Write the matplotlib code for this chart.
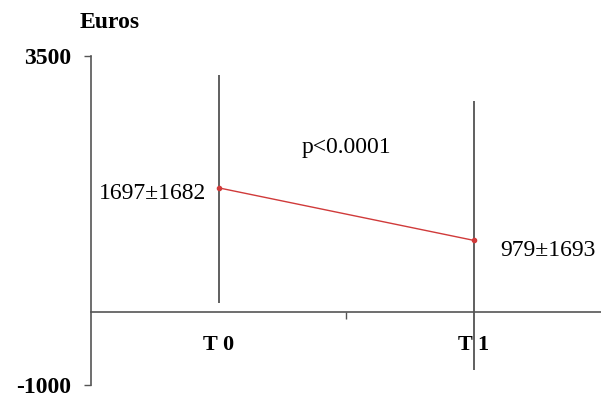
import matplotlib
matplotlib.use("Agg")
import matplotlib.pyplot as plt

# data
times = [1, 2]
time_labels = ["T 0", "T 1"]
means = [1697, 979]
sds = [1682, 1693]
bar_top = [3240, 2880]
bar_bottom = [120, -800]
y_ticks = [-1000, 3500]
p_text = "p<0.0001"

plt.rcParams['font.family'] = ['Liberation Serif', 'DejaVu Serif']

fig = plt.figure(figsize=(6.01, 3.99), dpi=100)
ax = fig.add_axes([91 / 601, 1 - 385 / 399, 510 / 601, 329 / 399])

ax.set_xlim(0.5, 2.5)
ax.set_ylim(-1000, 3500)

for s in ['top', 'right']:
    ax.spines[s].set_visible(False)
ax.spines['bottom'].set_position(('data', 0))
for s in ['left', 'bottom']:
    ax.spines[s].set_color('#555555')
    ax.spines[s].set_linewidth(1.2)

ax.set_yticks(y_ticks)
ax.set_yticklabels([str(v) for v in y_ticks], fontsize=17, fontweight='bold')
ax.set_xticks([1.5])
ax.set_xticklabels([''])
ax.tick_params(axis='y', direction='out', length=5, width=1, color='#555555', pad=9)
ax.tick_params(axis='x', direction='out', length=5, width=1, color='#555555')

# vertical bars at each time point
ax.vlines(times, bar_bottom, bar_top, color='#444444', lw=1.2)

# mean line
ax.plot(times, means, color='#d03a3a', lw=1, marker='o', ms=3, zorder=3)

# value labels
ax.annotate(f"{means[0]}\u00b1{sds[0]}", (times[0], means[0]), xytext=(-12, -6),
            textcoords='offset pixels', ha='right', va='center', fontsize=17)
ax.annotate(f"{means[1]}\u00b1{sds[1]}", (times[1], means[1]), xytext=(27, -10),
            textcoords='offset pixels', ha='left', va='center', fontsize=17)

ax.text(1.5, 2250, p_text, ha='center', va='center', fontsize=17)

for t, lab in zip(times, time_labels):
    ax.text(t, -450, lab, ha='center', va='center', fontsize=16, fontweight='bold')

fig.text(110 / 601, 1 - 22 / 399, "Euros", ha='center', va='center',
         fontsize=17, fontweight='bold')

fig.savefig("out.png", dpi=100)
